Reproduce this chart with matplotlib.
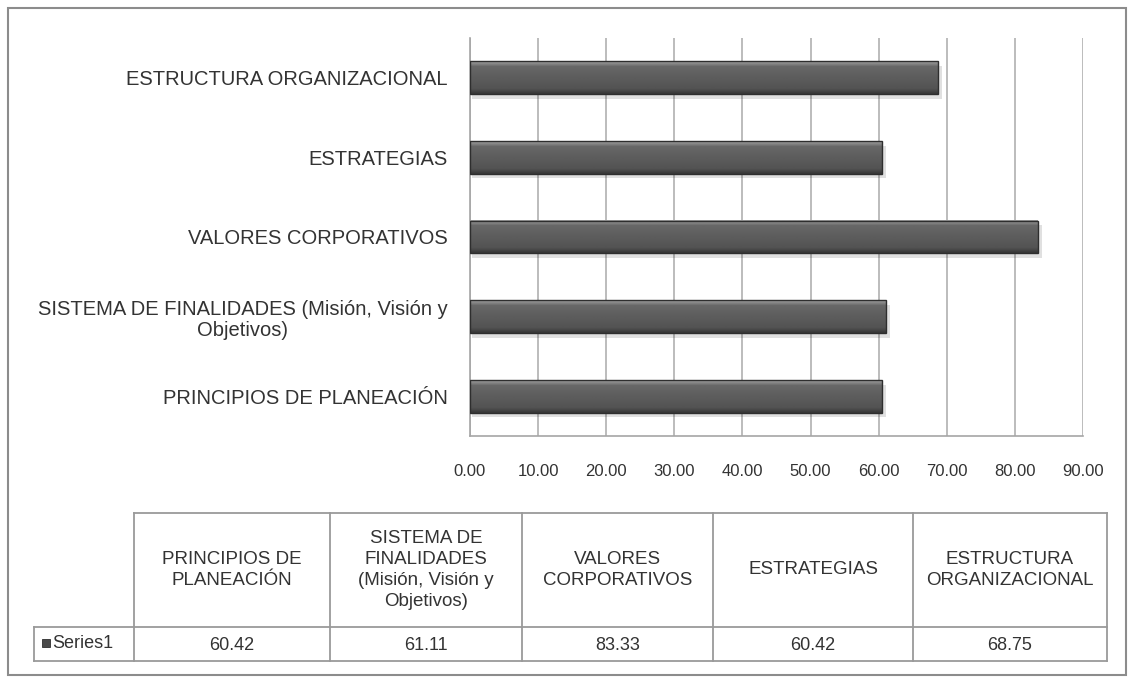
import numpy as np
import matplotlib.pyplot as plt
from matplotlib.patches import Rectangle

plt.rcParams['font.family'] = ['Liberation Sans', 'DejaVu Sans']

# categories bottom -> top on the bar axis
axis_labels = ['PRINCIPIOS DE PLANEACIÓN',
               'SISTEMA DE FINALIDADES (Misión, Visión y\nObjetivos)',
               'VALORES CORPORATIVOS',
               'ESTRATEGIAS',
               'ESTRUCTURA ORGANIZACIONAL']
table_labels = ['PRINCIPIOS DE\nPLANEACIÓN',
                'SISTEMA DE\nFINALIDADES\n(Misión, Visión y\nObjetivos)',
                'VALORES\nCORPORATIVOS',
                'ESTRATEGIAS',
                'ESTRUCTURA\nORGANIZACIONAL']
values = [60.42, 61.11, 83.33, 60.42, 68.75]
series_name = 'Series1'
xticks = np.arange(0, 91, 10)

W, H = 1135, 681
txt = '#333333'
fig = plt.figure(figsize=(W / 100, H / 100), dpi=100)

# background layer in pixel coordinates for frame and table
bg = fig.add_axes([0, 0, 1, 1])
bg.set_xlim(0, W)
bg.set_ylim(H, 0)
bg.axis('off')
bg.add_patch(Rectangle((8, 8), W - 17, H - 14, fill=False, ec='#8c8c8c', lw=1.5))

ax = fig.add_axes([470 / W, 1 - 436 / H, 613 / W, 398 / H])
for s in ['top', 'right']:
    ax.spines[s].set_visible(False)
for s in ['left', 'bottom']:
    ax.spines[s].set_color('#a6a6a6')
    ax.spines[s].set_linewidth(1.2)
ax.set_xticks(xticks)
ax.set_xticklabels([f'{t:.2f}' for t in xticks], fontsize=12, color=txt)
ax.xaxis.grid(True, color='#b0b0b0', lw=1.2)
ax.set_axisbelow(True)
ax.tick_params(axis='x', length=0, pad=20)
ax.tick_params(axis='y', length=0, pad=16)
ax.set_yticks(range(len(values)))
ax.set_yticklabels(axis_labels, fontsize=14.5, color=txt, multialignment='center',
                   linespacing=1.15)

bh = 0.41
grad = np.concatenate([np.linspace(0.62, 0.40, 6), np.linspace(0.40, 0.33, 20),
                       np.linspace(0.33, 0.22, 6)]).reshape(-1, 1)
for i, v in enumerate(values):
    # soft drop shadow
    ax.add_patch(Rectangle((0.3, i - bh / 2 - 0.06), v + 0.3, bh, fc='#000000',
                           alpha=0.12, lw=0, zorder=2))
    ax.imshow(grad, cmap='gray', vmin=0, vmax=1, aspect='auto',
              extent=[0, v, i - bh / 2, i + bh / 2], zorder=3, interpolation='bilinear')
    ax.barh(i, v, height=bh, fc='none', ec='#2e2e2e', lw=1.0, zorder=4)
ax.set_xlim(0, 90)
ax.set_ylim(-0.5, len(values) - 0.5)

# data table under the chart
col_x = [134, 330, 522, 713, 913, 1107]
top, mid, bot = 513, 627, 661
lc, lw = '#9a9a9a', 1.3
bg.plot([col_x[0], col_x[-1]], [top, top], color=lc, lw=lw)
bg.plot([34, col_x[-1]], [mid, mid], color=lc, lw=lw)
bg.plot([34, col_x[-1]], [bot, bot], color=lc, lw=lw)
bg.plot([34, 34], [mid, bot], color=lc, lw=lw)
for x in col_x:
    bg.plot([x, x], [top, bot], color=lc, lw=lw)
for j, (lab, v) in enumerate(zip(table_labels, values)):
    cx = (col_x[j] + col_x[j + 1]) / 2
    bg.text(cx, (top + mid) / 2, lab, ha='center', va='center', fontsize=13.5,
            color=txt, linespacing=1.3)
    bg.text(cx, (mid + bot) / 2 + 1, f'{v:.2f}', ha='center', va='center',
            fontsize=13, color=txt)
bg.add_patch(Rectangle((42, 639), 8, 8, fc='#4a4a4a', ec='#2e2e2e', lw=0.6))
bg.text(52, (mid + bot) / 2, series_name, ha='left', va='center', fontsize=13,
        color=txt)

fig.savefig('out.png', dpi=100)
